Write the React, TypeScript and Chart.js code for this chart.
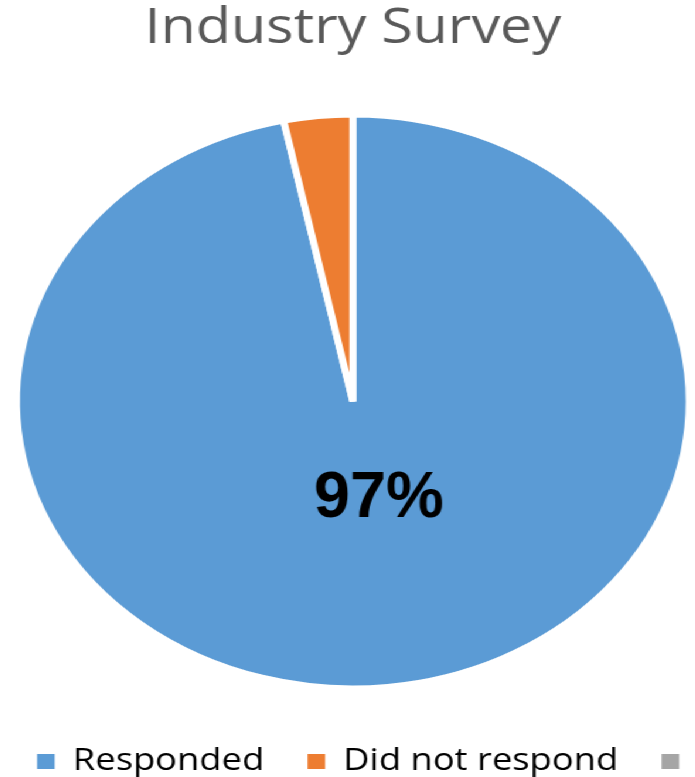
import React, { useEffect, useRef } from 'react';
import { Chart, registerables, layouts } from 'chart.js';

Chart.register(...registerables);

// ---- data ----
const categories = ['Responded', 'Did not respond', ''];
const responseShares = [96.7, 3.3, 0];
const sliceColors = ['#5B9BD5', '#ED7D31', '#A5A5A5'];
const sliceLabels = ['97%', '', ''];
const chartTitle = 'Industry Survey';

// ---- layout / style ----
const STRETCH_X = 1.172;
const CANVAS_W = 700;
const CANVAS_H = 787;
const OFFSET_LEFT = -43;
const RIGHT_SPACER = 24.5;
const PIE_RADIUS = 287;
const LABEL_RADIUS_FRACTION = 0.342;
const LABEL_SHIFT_X = 12;

const spacerPlugin = {
  id: 'rightSpacer',
  beforeInit(chart: any) {
    const box: any = {
      position: 'right',
      weight: 100,
      fullSize: false,
      options: {},
      width: 0,
      height: 0,
      left: 0,
      top: 0,
      right: 0,
      bottom: 0,
      isHorizontal() {
        return false;
      },
      update(_maxWidth: number, maxHeight: number) {
        this.width = RIGHT_SPACER;
        this.height = maxHeight;
      },
      draw() {},
    };
    layouts.addBox(chart, box);
  },
};

const sliceLabelPlugin = {
  id: 'sliceLabels',
  afterDatasetsDraw(chart: any) {
    const ctx = chart.ctx;
    const meta = chart.getDatasetMeta(0);
    meta.data.forEach((arc: any, i: number) => {
      const text = sliceLabels[i];
      if (!text) return;
      const { x, y, startAngle, endAngle, outerRadius } = arc.getProps(
        ['x', 'y', 'startAngle', 'endAngle', 'outerRadius'],
        true
      );
      const mid = (startAngle + endAngle) / 2;
      const r = outerRadius * LABEL_RADIUS_FRACTION;
      const lx = x + Math.cos(mid) * r + LABEL_SHIFT_X;
      const ly = y + Math.sin(mid) * r;
      ctx.save();
      ctx.translate(lx, ly);
      ctx.scale(1 / STRETCH_X, 1);
      ctx.font = 'bold 65px "Liberation Sans", Arial, sans-serif';
      ctx.fillStyle = '#000000';
      ctx.textAlign = 'center';
      ctx.textBaseline = 'middle';
      ctx.fillText(text, 0, 0);
      ctx.restore();
    });
  },
};

export default function App() {
  const canvasRef = useRef<HTMLCanvasElement | null>(null);

  useEffect(() => {
    if (!canvasRef.current) return;
    const chart = new Chart(canvasRef.current, {
      type: 'pie',
      data: {
        labels: categories,
        datasets: [
          {
            data: responseShares,
            backgroundColor: sliceColors,
            borderColor: '#ffffff',
            borderWidth: 6,
            radius: PIE_RADIUS,
          } as any,
        ],
      },
      options: {
        responsive: false,
        animation: false,
        layout: { padding: 0 },
        plugins: {
          title: {
            display: true,
            fullSize: false,
            text: chartTitle,
            color: '#595959',
            font: { family: '"Open Sans", sans-serif', size: 49, weight: 'normal', lineHeight: 1.2 },
            padding: { top: 0, bottom: 35 },
          },
          legend: {
            display: true,
            position: 'bottom',
            align: 'center',
            labels: {
              boxWidth: 15,
              boxHeight: 15,
              padding: 37,
              color: '#595959',
              font: { family: '"Open Sans", sans-serif', size: 31 },
              generateLabels: () =>
                categories.map((c, i) => ({
                  text: c,
                  fillStyle: sliceColors[i],
                  strokeStyle: sliceColors[i],
                  lineWidth: 0,
                  hidden: false,
                  index: i,
                })),
            },
          },
          tooltip: { enabled: false },
        },
      } as any,
      plugins: [spacerPlugin, sliceLabelPlugin],
    });
    return () => chart.destroy();
  }, []);

  return (
    <div
      style={{
        position: 'fixed',
        left: OFFSET_LEFT,
        top: 0,
        width: CANVAS_W,
        height: CANVAS_H,
        transform: `scaleX(${STRETCH_X})`,
        transformOrigin: '0 0',
        background: '#ffffff',
      }}
    >
      <canvas ref={canvasRef} width={CANVAS_W} height={CANVAS_H} style={{ display: 'block' }} />
    </div>
  );
}
